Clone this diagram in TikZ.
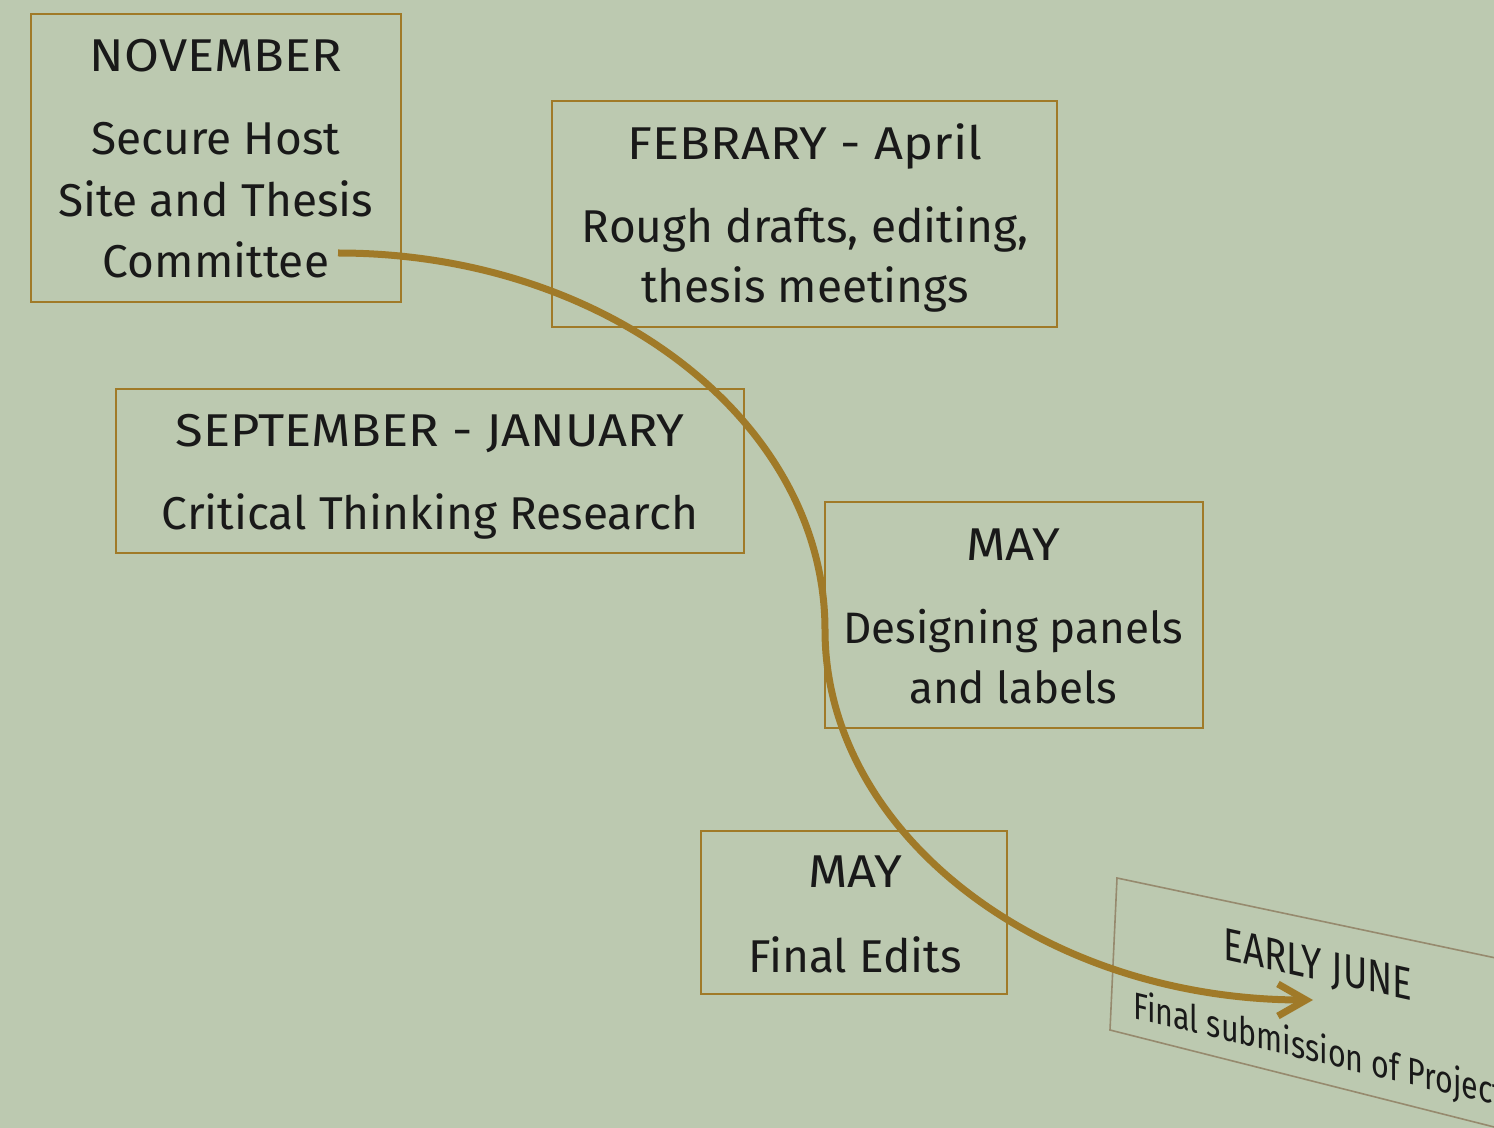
\documentclass[tikz,border=0pt]{standalone}
\usepackage{fontspec}
\setmainfont{Fira Sans}
\newfontfamily\titlefont{Fira Sans}[FakeStretch=1.1]
\newfontfamily\junefont{Fira Sans}[FakeStretch=0.8]
\usetikzlibrary{arrows.meta}
\definecolor{bgc}{RGB}{188,201,176}
\definecolor{gold}{RGB}{160,122,40}
\definecolor{greybox}{RGB}{150,138,110}
\definecolor{ink}{RGB}{25,25,25}
\tikzset{
  box/.style={draw=gold, line width=1pt, inner sep=0pt},
  lbl/.style={inner sep=0pt, anchor=base, text=ink, font=\fontsize{23}{28}\selectfont},
  ttl/.style={lbl, font=\titlefont\fontsize{23}{28}\selectfont},
  arrowline/.style={draw=gold, line width=3.5pt, -{Straight Barb[length=14pt,width=16pt]}},
}
\begin{document}
\begin{tikzpicture}[x=0.5pt,y=-0.5pt]
\fill[bgc] (0,0) rectangle (1494,1128);
\useasboundingbox (0,0) rectangle (1494,1128);

% boxes
\draw[box] (31,14) rectangle (401,302);
\draw[box] (552,101) rectangle (1057,327);
\draw[box] (116,389) rectangle (744,553);
\draw[box] (825,502) rectangle (1203,728);
\draw[box] (701,831) rectangle (1007,994);

% box 1
\node[ttl] (nov) at (216,72) {NOVEMBER};
\node[lbl] (nov1) at (216,155) {Secure Host};
\node[lbl] (nov2) at (216,217) {Site and Thesis};
\node[lbl] (nov3) at (216,278) {Committee};
% box 2
\node[ttl] (feb) at (805,160) {FEBRARY - April};
\node[lbl] (feb1) at (805,243) {Rough drafts, editing,};
\node[lbl] (feb2) at (805,303) {thesis meetings};
% box 3
\node[ttl] (sep) at (430,447) {SEPTEMBER - JANUARY};
\node[lbl] (sep1) at (430,530) {Critical Thinking Research};
% box 4
\node[ttl] (may) at (1013,560) {MAY};
\node[lbl, font=\fontsize{22}{26}\selectfont] (may1) at (1013,643) {Designing panels};
\node[lbl, font=\fontsize{22}{26}\selectfont] (may2) at (1013,703) {and labels};
% box 5
\node[ttl] (fin) at (855,887) {MAY};
\node[lbl] (fin1) at (855,972) {Final Edits};

% tilted box
\begin{scope}
\clip (0,0) rectangle (1494,1128);
\draw[draw=greybox, line width=0.8pt] (1510,961) -- (1117,878) -- (1110,1030) -- (1510,1131);
\node[lbl, font=\junefont\fontsize{23}{26}\selectfont, yslant=-0.22] (jun) at (1318,980) {EARLY JUNE};
\node[lbl, anchor=base west, font=\junefont\fontsize{19}{23}\selectfont, yslant=-0.24] (jun1) at (1133,1018) {Final submission of Project};
\end{scope}

% arrow
\coordinate (s) at (338,253);
\coordinate (m) at (825,630);
\coordinate (e) at (1313,1000);
\draw[arrowline] (s) .. controls (607,253) and (825,422) .. (m) .. controls (825,834) and (1043,1000) .. (e);
\end{tikzpicture}
\end{document}
